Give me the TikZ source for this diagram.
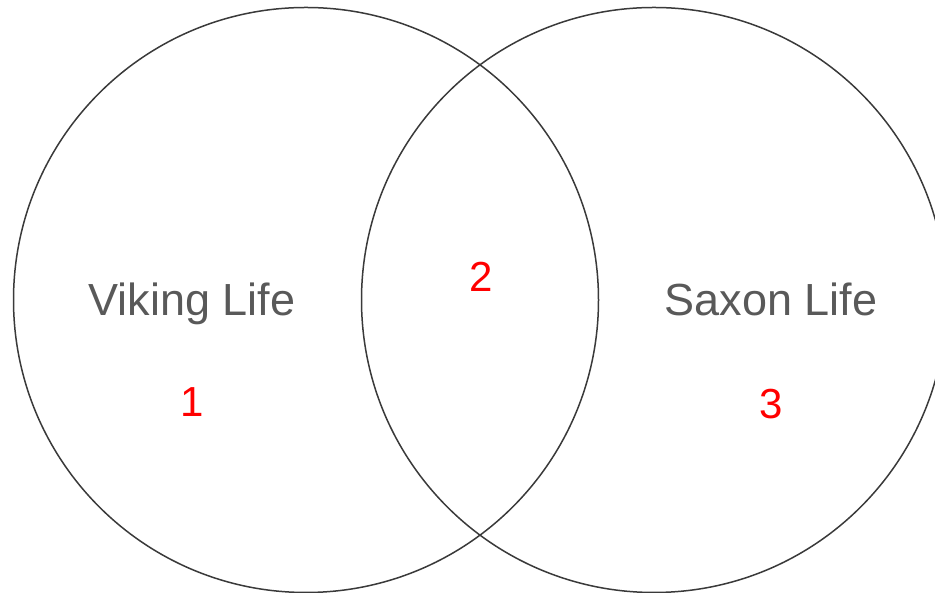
\documentclass[tikz,border=0pt]{standalone}
\usepackage{fontspec}
\setmainfont{Liberation Sans}
\definecolor{labelgray}{HTML}{595959}
\definecolor{ringgray}{HTML}{3A3A3A}
\begin{document}
\begin{tikzpicture}[x=1pt,y=1pt,
  ring/.style={draw=ringgray,line width=1.5pt},
  setlabel/.style={text=labelgray,font=\fontsize{45}{49}\selectfont,anchor=base,inner sep=0pt},
  regionnum/.style={text=red,font=\fontsize{42}{46}\selectfont,anchor=base,inner sep=0pt}]
\useasboundingbox (0,0) rectangle (935,593);
\path[ring] (306,293) circle (292.5);
\path[ring] (654,293) circle (292.5);
\node[setlabel] (viking) at (192,277) {Viking Life};
\node[setlabel] (saxon) at (771,277) {Saxon Life};
\node[regionnum] (one) at (192,176) {1};
\node[regionnum] (two) at (481,301) {2};
\node[regionnum] (three) at (771,174) {3};
\end{tikzpicture}
\end{document}
